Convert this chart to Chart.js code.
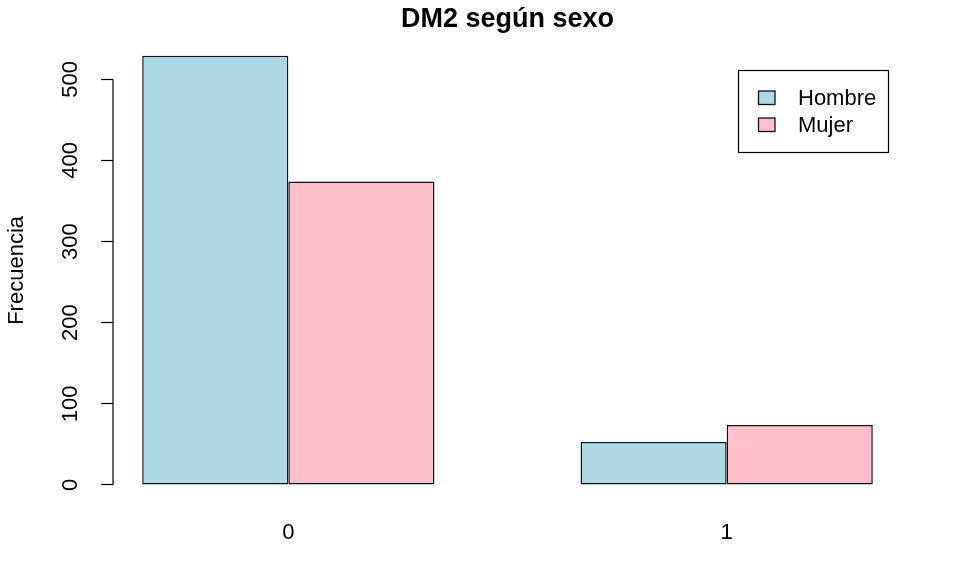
<!DOCTYPE html>
<html>
<head>
<meta charset="utf-8">
<script src="https://cdn.jsdelivr.net/npm/chart.js@4/dist/chart.umd.min.js"></script>
<style>
  html, body { margin: 0; padding: 0; background: #fff; }
</style>
</head>
<body>
<canvas id="myChart" width="960" height="576"></canvas>
<script>
// data
var categories = ['0', '1'];
var groupPos = [2, 5];          // centres of the two groups on the x scale
var hombre = [529, 53];
var mujer = [374, 74];
var seriesNames = ['Hombre', 'Mujer'];
var seriesColors = ['#ADD8E6', '#FFC0CB'];
var yTicks = [0, 100, 200, 300, 400, 500];

var FONT = 'Liberation Sans, Arial, Helvetica, sans-serif';

// R style axis line: only between first and last tick
var axisLine = {
  id: 'axisLine',
  afterDraw: function(chart) {
    var c = chart.ctx, y = chart.scales.y, a = chart.chartArea;
    c.save();
    c.strokeStyle = '#000';
    c.lineWidth = 1.2;
    c.beginPath();
    c.moveTo(a.left, y.getPixelForValue(yTicks[0]));
    c.lineTo(a.left, y.getPixelForValue(yTicks[yTicks.length - 1]));
    c.stroke();
    c.restore();
  }
};

// boxed legend in the top right corner
var boxLegend = {
  id: 'boxLegend',
  afterDraw: function(chart) {
    var c = chart.ctx;
    var ds = chart.data.datasets;
    c.save();
    c.strokeStyle = '#000';
    c.lineWidth = 1.2;
    c.strokeRect(738.5, 70.5, 150, 82);
    c.font = '22px ' + FONT;
    c.textBaseline = 'middle';
    c.textAlign = 'left';
    for (var i = 0; i < ds.length; i++) {
      var cy = 97.5 + i * 27;
      c.fillStyle = ds[i].backgroundColor;
      c.fillRect(758.5, cy - 6.5, 16.5, 13.5);
      c.strokeStyle = '#111';
      c.lineWidth = 1.3;
      c.strokeRect(758.5, cy - 6.5, 16.5, 13.5);
      c.fillStyle = '#000';
      c.fillText(ds[i].label, 798, cy + 1);
    }
    c.restore();
  }
};

var ctx = document.getElementById('myChart').getContext('2d');
var myChart = new Chart(ctx, {
  type: 'bar',
  data: {
    datasets: [{
      label: seriesNames[0],
      data: groupPos.map(function(x, i) { return {x: x, y: hombre[i]}; }),
      backgroundColor: seriesColors[0],
      borderColor: '#111',
      borderWidth: 1.5,
      borderSkipped: false
    }, {
      label: seriesNames[1],
      data: groupPos.map(function(x, i) { return {x: x, y: mujer[i]}; }),
      backgroundColor: seriesColors[1],
      borderColor: '#111',
      borderWidth: 1.5,
      borderSkipped: false
    }]
  },
  options: {
    responsive: false,
    animation: false,
    events: [],
    categoryPercentage: 2 / 3,
    barPercentage: 1,
    layout: { padding: { left: 0, right: 58, top: 0, bottom: 0 } },
    plugins: {
      legend: { display: false },
      tooltip: { enabled: false },
      title: {
        display: true,
        text: 'DM2 según sexo',
        fullSize: false,
        color: '#000',
        font: { family: FONT, size: 27, weight: 'bold' },
        padding: { top: 3, bottom: 3.2 }
      }
    },
    scales: {
      x: {
        type: 'linear',
        min: 0.8,
        max: 6.2,
        offset: false,
        grid: { display: false, drawTicks: false, offset: false },
        border: { display: false },
        afterBuildTicks: function(scale) {
          scale.ticks = groupPos.map(function(v) { return {value: v}; });
        },
        afterFit: function(scale) { scale.height = 73.8; },
        ticks: {
          autoSkip: false,
          maxRotation: 0,
          padding: 18,
          color: '#000',
          font: { family: FONT, size: 22 },
          callback: function(v, i) { return categories[i]; }
        }
      },
      y: {
        min: -21.2,
        max: 550.2,
        afterBuildTicks: function(scale) {
          scale.ticks = yTicks.map(function(v) { return {value: v}; });
        },
        afterFit: function(scale) { scale.width = 113; },
        border: { display: false },
        grid: {
          drawOnChartArea: false,
          drawTicks: true,
          tickLength: 12,
          tickColor: '#000',
          tickWidth: 1.2
        },
        ticks: {
          minRotation: 90,
          maxRotation: 90,
          crossAlign: 'center',
          padding: 12,
          color: '#000',
          font: { family: FONT, size: 22 }
        },
        title: {
          display: true,
          text: 'Frecuencia',
          color: '#000',
          font: { family: FONT, size: 22 },
          padding: { top: 4, bottom: 0 }
        }
      }
    }
  },
  plugins: [axisLine, boxLegend]
});
</script>
</body>
</html>
